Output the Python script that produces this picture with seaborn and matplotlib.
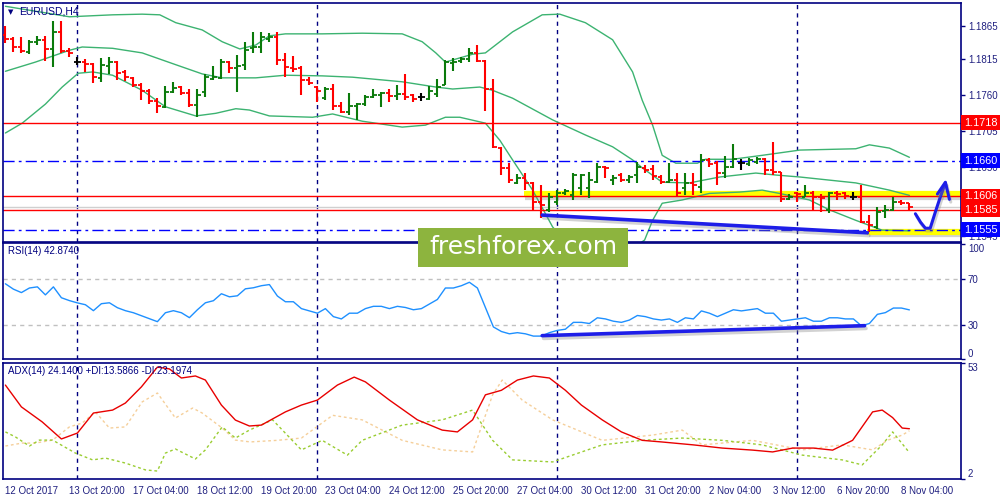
import numpy as np
import seaborn as sns
import matplotlib.pyplot as plt
import matplotlib.patheffects as pe
from matplotlib.patches import Rectangle
from matplotlib.transforms import blended_transform_factory

sns.set_style("white")
plt.rcParams['font.family'] = ['Liberation Sans', 'DejaVu Sans']

# EURUSD H4 bars, 12 Oct 2017 00:00 .. 8 Nov 2017 04:00
opens = [1.1851, 1.1845, 1.1833, 1.1825, 1.1841, 1.1844, 1.1830, 1.1856, 1.1827, 1.1810,
         1.1810, 1.1807, 1.1786, 1.1804, 1.1810, 1.1795, 1.1786, 1.1775, 1.1766, 1.1751,
         1.1742, 1.1764, 1.1772, 1.1763, 1.1745, 1.1764, 1.1784, 1.1786, 1.1810, 1.1801,
         1.1806, 1.1831, 1.1833, 1.1845, 1.1848, 1.1813, 1.1801, 1.1801, 1.1783, 1.1772,
         1.1755, 1.1769, 1.1743, 1.1734, 1.1743, 1.1746, 1.1757, 1.1760, 1.1763, 1.1758,
         1.1761, 1.1760, 1.1757, 1.1754, 1.1761, 1.1775, 1.1809, 1.1812, 1.1815, 1.1824,
         1.1812, 1.1769, 1.1679, 1.1649, 1.1626, 1.1633, 1.1626, 1.1597, 1.1585, 1.1597,
         1.1610, 1.1607, 1.1618, 1.1618, 1.1627, 1.1650, 1.1630, 1.1638, 1.1630, 1.1638,
         1.1649, 1.1647, 1.1635, 1.1627, 1.1630, 1.1618, 1.1626, 1.1620, 1.1661, 1.1656,
         1.1641, 1.1650, 1.1656, 1.1655, 1.1658, 1.1662, 1.1646, 1.1642, 1.1601, 1.1611,
         1.1604, 1.1610, 1.1604, 1.1585, 1.1610, 1.1610, 1.1604, 1.1604, 1.1566, 1.1559,
         1.1583, 1.1585, 1.1597, 1.1595]
highs = [1.1865, 1.1848, 1.1848, 1.1844, 1.1850, 1.1850, 1.1873, 1.1873, 1.1831, 1.1818,
         1.1815, 1.1809, 1.1816, 1.1818, 1.1812, 1.1798, 1.1787, 1.1778, 1.1769, 1.1755,
         1.1774, 1.1780, 1.1774, 1.1769, 1.1769, 1.1792, 1.1804, 1.1815, 1.1812, 1.1821,
         1.1841, 1.1856, 1.1856, 1.1854, 1.1856, 1.1824, 1.1819, 1.1804, 1.1787, 1.1774,
         1.1772, 1.1777, 1.1749, 1.1763, 1.1748, 1.1760, 1.1769, 1.1764, 1.1769, 1.1775,
         1.1792, 1.1761, 1.1763, 1.1774, 1.1784, 1.1813, 1.1816, 1.1818, 1.1831, 1.1836,
         1.1813, 1.1784, 1.1681, 1.1656, 1.1639, 1.1641, 1.1627, 1.1623, 1.1610, 1.1615,
         1.1617, 1.1641, 1.1639, 1.1642, 1.1656, 1.1652, 1.1638, 1.1641, 1.1638, 1.1658,
         1.1653, 1.1653, 1.1638, 1.1656, 1.1641, 1.1641, 1.1641, 1.1670, 1.1664, 1.1659,
         1.1667, 1.1685, 1.1662, 1.1664, 1.1665, 1.1664, 1.1688, 1.1643, 1.1609, 1.1612,
         1.1623, 1.1614, 1.1609, 1.1612, 1.1614, 1.1612, 1.1612, 1.1623, 1.1577, 1.1589,
         1.1592, 1.1604, 1.1600, 1.1595]
lows = [1.1839, 1.1825, 1.1824, 1.1822, 1.1836, 1.1812, 1.1802, 1.1824, 1.1818, 1.1806,
        1.1795, 1.1778, 1.1780, 1.1792, 1.1783, 1.1781, 1.1772, 1.1752, 1.1746, 1.1732,
        1.1740, 1.1763, 1.1760, 1.1742, 1.1726, 1.1757, 1.1783, 1.1784, 1.1793, 1.1764,
        1.1798, 1.1824, 1.1824, 1.1841, 1.1806, 1.1787, 1.1795, 1.1760, 1.1775, 1.1749,
        1.1752, 1.1737, 1.1732, 1.1729, 1.1722, 1.1743, 1.1755, 1.1742, 1.1749, 1.1752,
        1.1752, 1.1749, 1.1751, 1.1752, 1.1757, 1.1775, 1.1796, 1.1809, 1.1810, 1.1810,
        1.1735, 1.1679, 1.1638, 1.1626, 1.1624, 1.1615, 1.1585, 1.1572, 1.1582, 1.1592,
        1.1607, 1.1600, 1.1607, 1.1603, 1.1626, 1.1633, 1.1623, 1.1627, 1.1626, 1.1626,
        1.1641, 1.1630, 1.1624, 1.1626, 1.1604, 1.1607, 1.1607, 1.1610, 1.1650, 1.1623,
        1.1633, 1.1649, 1.1646, 1.1652, 1.1655, 1.1638, 1.1638, 1.1597, 1.1600, 1.1597,
        1.1604, 1.1585, 1.1582, 1.1580, 1.1600, 1.1601, 1.1600, 1.1565, 1.1551, 1.1556,
        1.1572, 1.1583, 1.1592, 1.1583]
closes = [1.1845, 1.1833, 1.1827, 1.1841, 1.1844, 1.1830, 1.1856, 1.1827, 1.1824, 1.1810,
          1.1807, 1.1787, 1.1806, 1.1810, 1.1793, 1.1787, 1.1775, 1.1766, 1.1751, 1.1743,
          1.1764, 1.1771, 1.1763, 1.1745, 1.1760, 1.1787, 1.1787, 1.1810, 1.1801, 1.1804,
          1.1828, 1.1833, 1.1848, 1.1848, 1.1813, 1.1802, 1.1799, 1.1783, 1.1778, 1.1766,
          1.1769, 1.1743, 1.1734, 1.1743, 1.1746, 1.1757, 1.1760, 1.1763, 1.1758, 1.1761,
          1.1757, 1.1754, 1.1757, 1.1766, 1.1772, 1.1810, 1.1810, 1.1815, 1.1824, 1.1812,
          1.1769, 1.1681, 1.1649, 1.1630, 1.1633, 1.1626, 1.1597, 1.1592, 1.1604, 1.1610,
          1.1614, 1.1638, 1.1638, 1.1630, 1.1650, 1.1649, 1.1633, 1.1630, 1.1635, 1.1650,
          1.1646, 1.1636, 1.1627, 1.1630, 1.1610, 1.1626, 1.1623, 1.1661, 1.1655, 1.1641,
          1.1650, 1.1662, 1.1656, 1.1661, 1.1662, 1.1646, 1.1642, 1.1601, 1.1604, 1.1609,
          1.1610, 1.1604, 1.1603, 1.1610, 1.1609, 1.1606, 1.1604, 1.1566, 1.1562, 1.1582,
          1.1585, 1.1597, 1.1595, 1.1589]

# Bollinger bands (bar position, price)
bb_up_x = [0, 8, 13.4, 17.1, 19.3, 21.3, 24.6, 27.1, 29.3, 31.3, 33, 35, 39.6, 44.6, 49.6,
           52.1, 53.8, 55, 58.4, 60, 63.4, 67.1, 69.3, 72.5, 75.9, 78.4, 79.6, 80.9, 82.1,
           83.8, 86.5, 87.5, 90.9, 94.6, 99.3, 106.3, 108, 110.5, 113]
bb_up = [1.1895, 1.1879, 1.1882, 1.1883, 1.1882, 1.1870, 1.1859, 1.1841, 1.1830, 1.1836,
         1.1850, 1.1853, 1.1853, 1.1854, 1.1853, 1.1841, 1.1824, 1.1810, 1.1822, 1.1824,
         1.1856, 1.1882, 1.1883, 1.1870, 1.1844, 1.1795, 1.1752, 1.1714, 1.1668, 1.1656,
         1.1656, 1.1662, 1.1662, 1.1668, 1.1676, 1.1678, 1.1684, 1.1679, 1.1665]
bb_mid_x = [0, 3.75, 8, 9.6, 13.4, 17.1, 21.3, 24.6, 27.1, 31.3, 35, 39.6, 43.4, 49.6, 53.8,
            55.9, 59.3, 60.9, 63.4, 68.4, 72.5, 75.9, 78.4, 79.6, 82.1, 85.5, 89.3, 93.8,
            96.3, 99.3, 106.3, 110.5, 113]
bb_mid = [1.1796, 1.1810, 1.1828, 1.1833, 1.1831, 1.1824, 1.1806, 1.1792, 1.1786, 1.1786,
          1.1790, 1.1789, 1.1787, 1.1780, 1.1772, 1.1769, 1.1772, 1.1767, 1.1755, 1.1722,
          1.1699, 1.1681, 1.1661, 1.1649, 1.1627, 1.1626, 1.1635, 1.1641, 1.1638, 1.1635,
          1.1626, 1.1615, 1.1607]
bb_low_x = [0, 2.1, 5, 7.1, 9.1, 10.9, 13.4, 17.1, 20, 23.8, 26.3, 28.8, 30.5, 33, 38.4,
            40.9, 44.6, 49.6, 52.5, 55, 56.8, 60, 61.8, 63.4, 65.9, 68.4, 70.9, 74.6, 77.8,
            79.9, 80.9, 82.1, 84.6, 88, 91.75, 94.6, 96.75, 100.5, 103, 106.3, 109.6, 113]
bb_low = [1.1702, 1.1717, 1.1746, 1.1772, 1.1793, 1.1795, 1.1790, 1.1767, 1.1742, 1.1728,
          1.1732, 1.1739, 1.1737, 1.1728, 1.1726, 1.1731, 1.1720, 1.1711, 1.1714, 1.1726,
          1.1726, 1.1717, 1.1691, 1.1661, 1.1615, 1.1559, 1.1524, 1.1511, 1.1521, 1.1539,
          1.1569, 1.1595, 1.1600, 1.1610, 1.1612, 1.1615, 1.1610, 1.1600, 1.1585, 1.1569,
          1.1554, 1.1553]

rsi = [65.7, 61, 58, 62, 63, 56, 63, 53.5, 51, 49,
       47.4, 42.2, 48.3, 49.1, 44.8, 42.2, 40.4, 37.8, 35.2, 32.6,
       40.4, 42.2, 40.4, 36.1, 43, 49.1, 50.9, 57, 54.3, 55.2,
       61.3, 62.2, 64, 65, 55, 50, 50, 44, 42, 40,
       44, 37, 35, 40, 40, 44, 46, 46, 44, 46,
       45, 43, 44, 48, 52, 62, 62, 64, 67, 62,
       45, 28, 24, 22, 23, 22, 20, 20, 23, 25,
       26, 32, 32, 31, 36, 35, 33, 32, 34, 38,
       37, 35, 34, 35, 32, 36, 35, 42, 40, 37,
       40, 43, 42, 43, 44, 40, 40, 33, 34, 35,
       36, 33, 33, 36, 36, 35, 35, 29, 31, 39,
       40.5, 44.5, 44.5, 42.9]

adx_x = [0, 2, 4.6, 7, 9, 11, 13.4, 15, 17, 19, 20.5, 22, 23.75, 25, 27, 28.75, 30.5, 32,
         35, 37, 39, 41.5, 43.6, 45, 48, 51.5, 54.6, 56.5, 58.4, 60, 62, 64, 66, 68, 70,
         72, 74.6, 77, 79.6, 82, 86, 89.6, 93.4, 95.9, 98.4, 101, 103.4, 105.9, 108.4,
         109.6, 110.9, 112.1, 113]
adx = [43.3, 33.7, 27.1, 19.6, 22.2, 31, 32.3, 35.4, 42.5, 51.2, 50.4, 46.4, 47.3, 45.5,
       34.5, 27.9, 25.3, 25.7, 31.5, 34.5, 36.7, 43.3, 46.8, 44.7, 36.7, 28, 23.5, 22.7,
       28, 39, 41, 45.5, 47.3, 46.4, 41, 34.5, 28, 22.7, 19, 18.3, 17, 15.6, 14.7, 13.9,
       15.6, 15.6, 14.7, 19, 31.5, 32.3, 29, 24.4, 24.1]
pdi_x = [0, 1.25, 3, 4.25, 5.9, 8.75, 10.9, 12.5, 15, 17.5, 19, 20, 21.25, 23.75, 25, 27.1,
         28.75, 30.5, 33.4, 37, 39.6, 42.75, 44.6, 49.6, 54.6, 58.4, 60.9, 63.4, 68.4,
         74.6, 79.6, 84.6, 89.6, 94.6, 99.6, 104.6, 107.1, 109.6, 110.9, 113]
pdi = [22.7, 20.5, 16.5, 19.1, 19.1, 13.4, 10.4, 11.2, 9.0, 6.0, 5.5, 13.4, 15.2, 10.8,
       14.8, 24.9, 20, 23.5, 28, 14.8, 19, 12.5, 19, 25.7, 28, 32.3, 19, 10.4, 9.5, 17,
       19, 20, 19, 17, 12.5, 10.4, 8.2, 17, 22.7, 13.6]
mdi_x = [0, 2.1, 3.75, 5.9, 8, 9.6, 11.25, 13, 15, 17.1, 19, 21.25, 23.4, 24.6, 27.1,
         28.75, 30.6, 34, 37, 40.9, 44.6, 49.6, 54.6, 58.4, 60.9, 62.1, 64.6, 68.4, 74.6,
         80.9, 84.6, 87.1, 93.4, 99.6, 104.6, 108.4, 110.25, 112.1, 113]
mdi = [16.5, 17.8, 17.8, 19.1, 24.9, 26.6, 31.5, 24.4, 24.9, 35.9, 39.8, 28.8, 33.2, 31,
       24.4, 19.1, 18.3, 19, 20, 30, 28, 19, 14.8, 13.9, 39, 45.5, 36.7, 28, 19, 21.3,
       23.5, 17, 19, 14.8, 17, 14.8, 19, 21.3, 23.2]

# hand-drawn objects
trend_x = [67.1, 107.75]
trend_y = [1.1577, 1.1550]
rsi_trend_x = [67.1, 107.4]
rsi_trend_y = [20.4, 29.1]
arrow_x = [113.75, 114.4, 115.0, 115.6, 116.25, 116.9, 117.5]
arrow_y = [1.1579, 1.1566, 1.1557, 1.1557, 1.1582, 1.1606, 1.1626]
head_x = [116.5, 117.5, 118.0]
head_y = [1.1609, 1.1627, 1.1601]

price_ticks = [1.1545, 1.1595, 1.1650, 1.1705, 1.1760, 1.1815, 1.1865]
date_ticks = [0, 8, 16, 24, 32, 40, 48, 56, 64, 72, 80, 88, 96, 104, 112]
date_labels = ['12 Oct 2017', '13 Oct 20:00', '17 Oct 04:00', '18 Oct 12:00', '19 Oct 20:00',
               '23 Oct 04:00', '24 Oct 12:00', '25 Oct 20:00', '27 Oct 04:00', '30 Oct 12:00',
               '31 Oct 20:00', '2 Nov 04:00', '3 Nov 12:00', '6 Nov 20:00', '8 Nov 04:00']
week_starts = [9, 39, 69, 99]

navy = '#000080'
green = '#0A7A0A'
band_col = '#3CB371'

bar = np.arange(len(closes))
o, h, l, c = map(np.array, (opens, highs, lows, closes))
bar_cols = np.where(c > o, green, np.where(c < o, '#FF0000', 'black'))

fig = plt.figure(figsize=(10, 5), dpi=100)
ax = fig.add_axes([0.003, 0.516, 0.958, 0.478])
ax_rsi = fig.add_axes([0.003, 0.282, 0.958, 0.232])
ax_adx = fig.add_axes([0.003, 0.042, 0.958, 0.232])

for a in (ax, ax_rsi, ax_adx):
    for s in a.spines.values():
        s.set_color(navy)
        s.set_linewidth(1.2)
    a.yaxis.tick_right()
    a.tick_params(axis='y', colors=navy, labelsize=7, length=3, width=1, pad=2,
                  labelcolor='#202080')
    a.tick_params(axis='x', colors=navy, labelsize=7, length=4, width=1, pad=1,
                  labelcolor='#202080')
    a.grid(False)
    for b in week_starts:
        a.axvline(b, color=navy, lw=1, ls=(0, (3, 3)), zorder=1)

# ---- main price panel
ax.set_ylim(1.1536, 1.1900)
ax.set_yticks(price_ticks)
ax.set_yticklabels(['%.4f' % p for p in price_ticks])
ax.set_xticks([])

sns.lineplot(x=bb_up_x, y=bb_up, ax=ax, color=band_col, lw=1)
sns.lineplot(x=bb_mid_x, y=bb_mid, ax=ax, color=band_col, lw=1)
sns.lineplot(x=bb_low_x, y=bb_low, ax=ax, color=band_col, lw=1)

shadow = [pe.SimpleLineShadow(offset=(1, -2), shadow_color='#808080', alpha=0.35), pe.Normal()]
ax.hlines(1.1609, 64.8, 119.45, color='#FFFF00', lw=4.5, zorder=1.5, path_effects=shadow)
ax.hlines(1.15518, 107.75, 119.45, color='#FFFF00', lw=4.5, zorder=1.5, path_effects=shadow)

ax.axhline(1.1718, color='#FF0000', lw=1, zorder=2)
ax.axhline(1.1606, color='#FF0000', lw=1, zorder=2)
ax.axhline(1.1585, color='#FF0000', lw=1, zorder=2)
ax.axhline(1.1589, color='#D0D0D0', lw=1, zorder=1.8)
ax.axhline(1.1660, color='#0000FF', lw=1, ls=(0, (8, 3, 2, 3)), zorder=2)
ax.axhline(1.1555, color='#0000FF', lw=1, ls=(0, (8, 3, 2, 3)), zorder=2)

ax.vlines(bar, l, h, colors=bar_cols, lw=1.5, zorder=3)
ax.hlines(o, bar - 0.42, bar, colors=bar_cols, lw=1.3, zorder=3)
ax.hlines(c, bar, bar + 0.42, colors=bar_cols, lw=1.3, zorder=3)

ax.plot(trend_x, trend_y, color='#1E1EE8', lw=2.6, zorder=4, path_effects=shadow)
ax.plot(arrow_x, arrow_y, color='#1E1EE8', lw=2.2, zorder=4, path_effects=shadow,
        solid_capstyle='round', solid_joinstyle='round')
ax.plot(head_x, head_y, color='#1E1EE8', lw=2.2, zorder=4, path_effects=shadow,
        solid_joinstyle='round')

ytr = blended_transform_factory(ax.transAxes, ax.transData)
for val, col in [(1.1718, '#FF0000'), (1.1660, '#0000FF'), (1.1606, '#FF0000'),
                 (1.1585, '#FF0000'), (1.1555, '#0000FF')]:
    ax.text(1.003, val, '%.4f' % val, transform=ytr, color='white', fontsize=7.8,
            va='center', ha='left', clip_on=False, zorder=10,
            bbox=dict(boxstyle='square,pad=0.22', fc=col, ec='none'))

ax.text(0.005, 0.975, '\u25bc', transform=ax.transAxes, fontsize=5, color=navy,
        va='top', ha='left', family='DejaVu Sans')
ax.text(0.017, 0.985, 'EURUSD,H4', transform=ax.transAxes, fontsize=7.5, color=navy,
        va='top', ha='left')

# ---- RSI panel
ax_rsi.set_ylim(0.4, 101.3)
ax_rsi.set_yticks([0, 30, 70, 100])
ax_rsi.set_yticklabels(['0', '30', '70', '100'])
ax_rsi.set_xticks([])
for lev in (30, 70):
    ax_rsi.axhline(lev, color='#C0C0C0', lw=1, ls=(0, (3, 3)), zorder=1)
sns.lineplot(x=bar, y=rsi, ax=ax_rsi, color='#1E90FF', lw=1)
ax_rsi.plot(rsi_trend_x, rsi_trend_y, color='#1E1EE8', lw=2.6, zorder=4, path_effects=shadow)
ax_rsi.text(0.005, 0.975, 'RSI(14) 42.8740', transform=ax_rsi.transAxes, fontsize=7,
            color=navy, va='top', ha='left')

# ---- ADX panel
ax_adx.set_ylim(2, 53)
ax_adx.set_yticks([2, 53])
ax_adx.set_yticklabels(['2', '53'])
sns.lineplot(x=mdi_x, y=mdi, ax=ax_adx, color='#F5CF9A', lw=1, ls=(0, (2, 2)))
sns.lineplot(x=pdi_x, y=pdi, ax=ax_adx, color='#9ACD32', lw=1, ls=(0, (2, 2)))
sns.lineplot(x=adx_x, y=adx, ax=ax_adx, color='#E80000', lw=1)
ax_adx.text(0.005, 0.975, 'ADX(14) 24.1400 +DI:13.5866 -DI:23.1974',
            transform=ax_adx.transAxes, fontsize=7, color=navy, va='top', ha='left')
ax_adx.set_xticks(date_ticks)
ax_adx.set_xticklabels(date_labels)
for t in ax_adx.get_xticklabels():
    t.set_ha('left')

for a in (ax_rsi, ax_adx):
    labs = a.get_yticklabels()
    labs[0].set_va('bottom')
    labs[-1].set_va('top')
for a in (ax, ax_rsi, ax_adx):
    a.set_xlim(-0.3, 119.45)
    a.set_xlabel('')
    a.set_ylabel('')

# watermark
fig.add_artist(Rectangle((0.418, 0.466), 0.21, 0.078, transform=fig.transFigure,
                         facecolor='#8DB43E', edgecolor='none', zorder=5))
fig.text(0.523, 0.505, 'freshforex.com', color='white', fontsize=18, ha='center',
         va='center', zorder=6, family='DejaVu Sans')

fig.savefig('out.png', dpi=100)
